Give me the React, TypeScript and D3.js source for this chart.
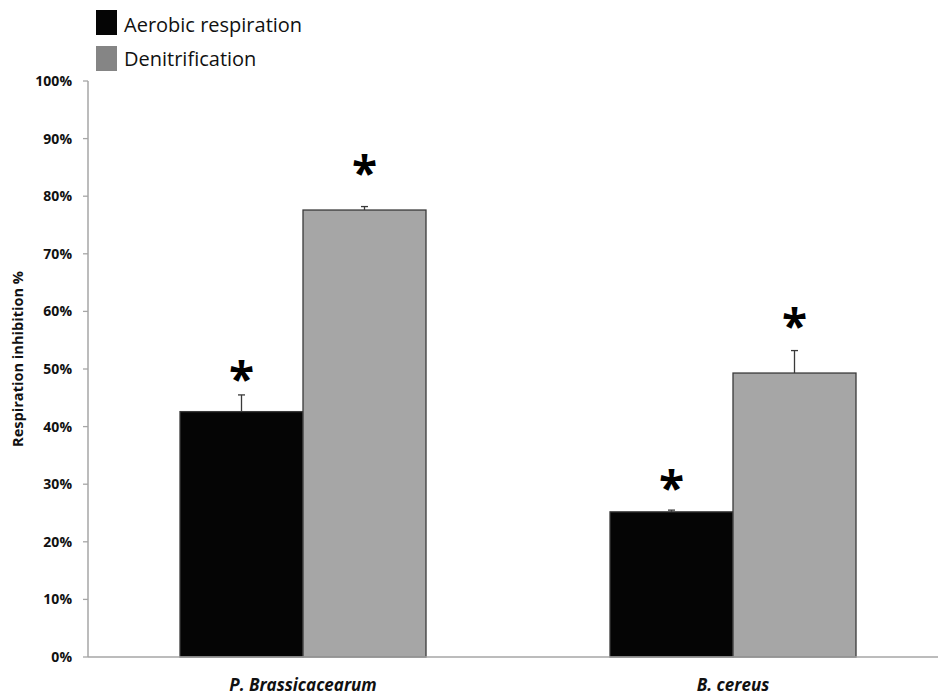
import React from "react";
import * as d3 from "d3";

const categories = ["P. Brassicacearum", "B. cereus"];
const seriesNames = ["Aerobic respiration", "Denitrification"];
const aerobicValues = [42.6, 25.2];
const aerobicErrors = [2.9, 0.3];
const denitrificationValues = [77.6, 49.3];
const denitrificationErrors = [0.6, 3.9];
const aerobicStarLevels = [49.1, 30.2];
const denitrificationStarLevels = [84.9, 58.3];
const yTicks = [0, 10, 20, 30, 40, 50, 60, 70, 80, 90, 100];

const W = 938;
const H = 695;
const FONT = "'Open Sans', sans-serif";

export default function App() {
  const y = d3.scaleLinear().domain([0, 100]).range([657, 81]);
  const x = d3.scaleBand<string>().domain(categories).range([88, 948]).padding(0);
  const inner = d3.scaleBand<string>().domain(seriesNames).range([-123, 123]).padding(0);
  const fills = ["#050505", "#a6a6a6"];
  const legendFills = ["#050505", "#858585"];
  const values = [aerobicValues, denitrificationValues];
  const errors = [aerobicErrors, denitrificationErrors];
  const stars = [aerobicStarLevels, denitrificationStarLevels];

  return (
    <svg width={W} height={H} style={{ position: "absolute", left: 0, top: 0, background: "#fff" }}>
      <rect x={0} y={0} width={W} height={H} fill="#fff" />
      {/* legend */}
      {seriesNames.map((s, i) => (
        <g key={s}>
          <rect x={96} y={10 + i * 36} width={21} height={25} fill={legendFills[i]} />
          <text x={124} y={25 + i * 34} dy="0.35em" fontFamily={FONT} fontSize={20} fill="#111">
            {s}
          </text>
        </g>
      ))}
      {/* y axis */}
      <line x1={88} x2={88} y1={y(100)} y2={y(0)} stroke="#a6a6a6" strokeWidth={1.5} />
      {yTicks.map((t) => (
        <g key={t}>
          <line x1={83} x2={88} y1={y(t)} y2={y(t)} stroke="#a6a6a6" strokeWidth={1.3} />
          <text x={72} y={y(t)} dy="0.35em" textAnchor="end" fontFamily={FONT} fontWeight="bold" fontSize={14} fill="#111">
            {t}%
          </text>
        </g>
      ))}
      <text
        transform={`translate(18,${359}) rotate(-90)`}
        textAnchor="middle"
        dy="0.35em"
        fontFamily={FONT}
        fontWeight="bold"
        fontSize={14.6}
        fill="#111"
      >
        Respiration inhibition %
      </text>
      {/* bars */}
      {categories.map((c, ci) => {
        const cx = (x(c) as number) + x.bandwidth() / 2;
        return (
          <g key={c}>
            {seriesNames.map((s, si) => {
              const v = values[si][ci];
              const e = errors[si][ci];
              const bx = cx + (inner(s) as number);
              const mid = bx + inner.bandwidth() / 2;
              return (
                <g key={s}>
                  <rect x={bx} y={y(v)} width={inner.bandwidth()} height={y(0) - y(v)} fill={fills[si]} stroke="#3a3a3a" strokeWidth={1.3} />
                  <line x1={mid} x2={mid} y1={y(v)} y2={y(v + e)} stroke="#3a3a3a" strokeWidth={1.3} />
                  <line x1={mid - 3.5} x2={mid + 3.5} y1={y(v + e)} y2={y(v + e)} stroke="#3a3a3a" strokeWidth={1.3} />
                  <text x={mid} y={y(stars[si][ci]) + 22} textAnchor="middle" fontFamily={FONT} fontWeight="bold" fontSize={46} fill="#000">
                    *
                  </text>
                </g>
              );
            })}
            <text x={cx} y={685} dy="0.35em" textAnchor="middle" fontFamily={FONT} fontWeight="bold" fontStyle="italic" fontSize={17} fill="#111">
              {c}
            </text>
          </g>
        );
      })}
      {/* x axis */}
      <line x1={88} x2={948} y1={y(0)} y2={y(0)} stroke="#a6a6a6" strokeWidth={1.5} />
    </svg>
  );
}
